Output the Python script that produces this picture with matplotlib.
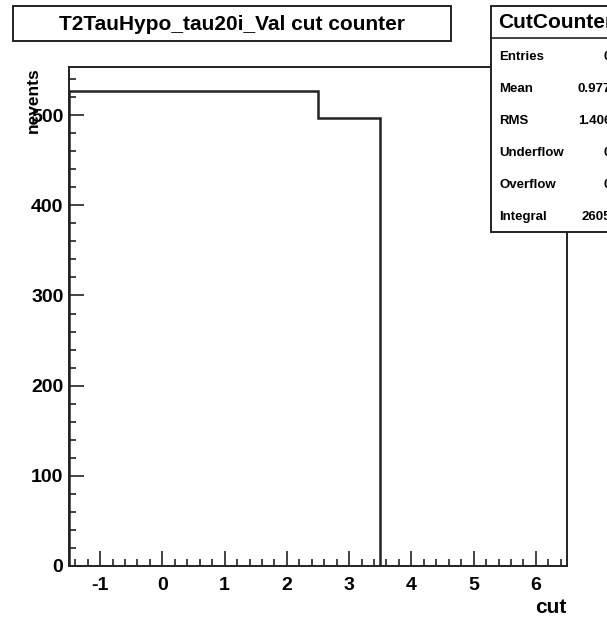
import numpy as np
import matplotlib
matplotlib.use('Agg')
from matplotlib import pyplot as plt
from matplotlib.patches import Rectangle
from matplotlib.ticker import MultipleLocator

plt.rcParams['font.family'] = ['Liberation Sans', 'DejaVu Sans']
plt.rcParams['font.weight'] = 'bold'
plt.rcParams['axes.unicode_minus'] = False

# cut counter histogram: one bin per cut, centred on integers
cuts = [-1, 0, 1, 2, 3, 4, 5, 6]
counts = [527, 527, 527, 527, 497, 0, 0, 0]
entries = 0
underflow = 0
overflow = 0

title = 'T2TauHypo_tau20i_Val cut counter'
hist_name = 'CutCounter'

W, H = 607, 619
fig = plt.figure(figsize=(W / 100, H / 100), dpi=100)


def fx(px):
    return px / W


def fy(py):
    return 1 - py / H


ax = fig.add_axes([fx(69), fy(566), fx(567) - fx(69), fy(67) - fy(566)])

edges = np.arange(cuts[0] - 0.5, cuts[-1] + 1.0, 1.0)
ax.stairs(counts, edges, color='#222222', linewidth=1.8)

ax.set_xlim(edges[0], edges[-1])
ax.set_ylim(0, 1.05 * max(counts))

ax.xaxis.set_major_locator(MultipleLocator(1))
ax.xaxis.set_minor_locator(MultipleLocator(0.2))
ax.yaxis.set_major_locator(MultipleLocator(100))
ax.yaxis.set_minor_locator(MultipleLocator(20))
ax.tick_params(which='both', direction='in', top=False, right=False,
               color='#222222', width=1.2)
ax.tick_params(which='major', length=11, labelsize=14)
ax.tick_params(axis='x', which='major', pad=8)
ax.tick_params(axis='y', which='major', pad=4)
ax.tick_params(which='minor', length=5)
for lab in ax.get_xticklabels() + ax.get_yticklabels():
    lab.set_fontweight('bold')
for sp in ax.spines.values():
    sp.set_linewidth(1.4)
    sp.set_color('#222222')

ax.set_xlabel('cut', fontsize=15, fontweight='bold')
ax.xaxis.set_label_coords(1.0, -0.084)
ax.xaxis.label.set_horizontalalignment('right')
ax.xaxis.label.set_verticalalignment('center')
ax.set_ylabel('nevents', fontsize=12.5, fontweight='bold')
ax.yaxis.set_label_coords(-0.056, 1.0)
ax.yaxis.label.set_horizontalalignment('right')

# title box
fig.add_artist(Rectangle((fx(13), fy(41)), fx(451) - fx(13), fy(6) - fy(41),
                         transform=fig.transFigure, facecolor='white',
                         edgecolor='#222222', linewidth=1.4))
fig.text(fx(232), fy(24), title, ha='center', va='center',
         fontsize=15, fontweight='bold')

# statistics box
centers = np.array(cuts, dtype=float)
w = np.array(counts, dtype=float)
integral = w.sum()
mean = (w * centers).sum() / integral
rms = np.sqrt((w * (centers - mean) ** 2).sum() / integral)

fig.add_artist(Rectangle((fx(491), fy(232)), fx(640) - fx(491), fy(6) - fy(232),
                         transform=fig.transFigure, facecolor='white',
                         edgecolor='#222222', linewidth=1.4, zorder=5))
fig.add_artist(plt.Line2D([fx(491), fx(640)], [fy(38), fy(38)],
                          transform=fig.transFigure, color='#222222',
                          linewidth=1.2, zorder=6))
fig.text(fx(498), fy(22), hist_name, ha='left', va='center',
         fontsize=15, fontweight='bold', zorder=7)

rows = [('Entries', f'{entries:d}'),
        ('Mean', f'{mean:.3f}'),
        ('RMS', f'{rms:.3f}'),
        ('Underflow', f'{underflow:d}'),
        ('Overflow', f'{overflow:d}'),
        ('Integral', f'{integral:.0f}')]
for i, (name, val) in enumerate(rows):
    y = 57 + 32 * i
    fig.text(fx(499), fy(y), name, ha='left', va='center',
             fontsize=9.5, fontweight='bold', zorder=7)
    fig.text(fx(611), fy(y), val, ha='right', va='center',
             fontsize=9.5, fontweight='bold', zorder=7)

fig.savefig('out.png', dpi=100)
